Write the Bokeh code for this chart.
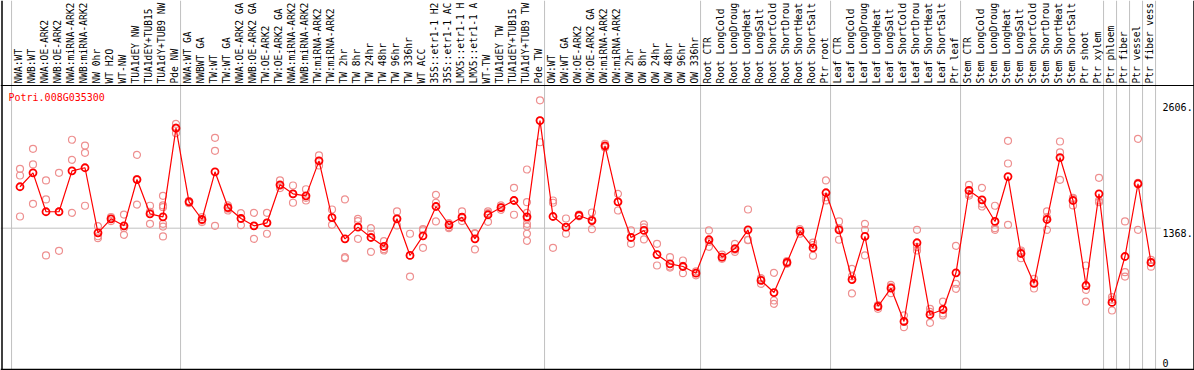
import math
from bokeh.plotting import figure
from bokeh.models import Span
from bokeh.core.properties import value
from bokeh.embed import file_html
from bokeh.resources import INLINE

gene_id = "Potri.008G035300"

categories = [
    "NWA:WT", "NWB:WT", "NWA:OE-ARK2", "NWB:OE-ARK2", "NWA:miRNA-ARK2", "NWB:miRNA-ARK2",
    "NW 0hr", "WT H2O", "WT-NW", "TUA1dEY NW", "TUA1dEY+TUB15", "TUA1dY+TUB9 NW", "Pde NW",
    "NWA:WT GA", "NWBWT GA", "TW:WT", "TW:WT GA", "NWA:OE-ARK2 GA", "NWB:OE-ARK2 GA",
    "TW:OE-ARK2", "TW:OE-ARK2 GA", "NWA:miRNA-ARK2", "NWB:miRNA-ARK2", "TW:miRNA-ARK2",
    "TW:miRNA-ARK2", "TW 2hr", "TW 8hr", "TW 24hr", "TW 48hr", "TW 96hr", "TW 336hr",
    "WT ACC", "35S::etr1-1 H2", "35S::etr1-1 AC", "LMX5::etr1-1 H", "LMX5::etr1-1 A",
    "WT-TW", "TUA1dEY TW", "TUA1dEY+TUB15", "TUA1dY+TUB9 TW", "Pde TW",
    "OW:WT", "OW:WT GA", "OW:OE-ARK2", "OW:OE-ARK2 GA", "OW:miRNA-ARK2", "OW:miRNA-ARK2",
    "OW 2hr", "OW 8hr", "OW 24hr", "OW 48hr", "OW 96hr", "OW 336hr",
    "Root CTR", "Root LongCold", "Root LongDroug", "Root LongHeat", "Root LongSalt",
    "Root ShortCold", "Root ShortDrou", "Root ShortHeat", "Root ShortSalt", "Ptr root",
    "Leaf CTR", "Leaf LongCold", "Leaf LongDroug", "Leaf LongHeat", "Leaf LongSalt",
    "Leaf ShortCold", "Leaf ShortDrou", "Leaf ShortHeat", "Leaf ShortSalt", "Ptr leaf",
    "Stem CTR", "Stem LongCold", "Stem LongDroug", "Stem LongHeat", "Stem LongSalt",
    "Stem ShortCold", "Stem ShortDrou", "Stem ShortHeat", "Stem ShortSalt", "Ptr shoot",
    "Ptr xylem", "Ptr phloem", "Ptr fiber", "Ptr vessel", "Ptr fiber vess",
]

mean_values = [
    1769, 1904, 1527, 1527, 1923, 1953, 1323, 1459, 1391, 1839,
    1507, 1478, 2336, 1623, 1452, 1914, 1568, 1462, 1391, 1420,
    1788, 1701, 1681, 2020, 1471, 1265, 1378, 1278, 1191, 1459,
    1104, 1294, 1578, 1401, 1474, 1265, 1498, 1568, 1636, 1478,
    2410, 1481, 1378, 1491, 1442, 2165, 1623, 1278, 1346, 1113,
    1023, 997, 932, 1256, 1087, 1171, 1352, 862, 745, 1036,
    1339, 1178, 1711, 1352, 871, 1288, 610, 787, 465, 1227,
    532, 581, 936, 1733, 1643, 1433, 1868, 1123, 833, 1452,
    2052, 1636, 813, 1701, 649, 1094, 1798, 1036,
]

replicates = [
    [1943, 1878, 1481], [2136, 1985, 1604], [1830, 1646, 1104], [1904, 1149, 1528],
    [2224, 2030, 1517], [2168, 2098, 1585], [1387, 1290, 1271], [1475, 1459, 1437],
    [1500, 1369, 1304], [2078, 1842, 1597], [1585, 1527, 1410],
    [1681, 1588, 1571, 1410, 1384, 1288], [2378, 2342, 2288],
    [1630, 1630, 1610], [1475, 1443, 1427], [2243, 2117, 1391], [1588, 1556, 1539],
    [1513, 1462, 1397], [1517, 1391, 1265], [1517, 1420, 1314], [1830, 1780, 1756],
    [1781, 1701, 1614], [1745, 1662, 1636], [2072, 2020, 1975], [1549, 1471, 1401],
    [1646, 1087, 1077], [1459, 1437, 1265], [1368, 1314, 1139], [1242, 1165, 1152],
    [1530, 1459, 1394], [1314, 1104, 900], [1358, 1346, 1178], [1691, 1614, 1433],
    [1417, 1378, 1368], [1530, 1474, 1437], [1320, 1314, 1162], [1530, 1513, 1430],
    [1588, 1570, 1546], [1759, 1636, 1498],
    [1936, 1620, 1517, 1459, 1410, 1384, 1314, 1246], [2606, 2410, 2200],
    [1636, 1614, 1178], [1462, 1378, 1314], [1500, 1491, 1483], [1520, 1450, 1358],
    [2184, 2160, 2149], [1701, 1623, 1539], [1346, 1278, 1217], [1404, 1375, 1259],
    [1217, 1115, 1007], [1087, 997, 987], [1055, 1004, 932], [950, 935, 912],
    [1346, 1236, 1188], [1113, 1087, 1071], [1217, 1160, 1139], [1549, 1256, 1252],
    [884, 872, 829], [936, 668, 636], [1049, 1036, 1023], [1358, 1339, 1314],
    [1229, 1205, 1101], [1830, 1668, 1636],
    [1433, 1368, 1256], [975, 902, 736], [1410, 1352, 1104], [620, 620, 587],
    [820, 800, 739], [523, 462, 410], [1352, 1184, 1152], [587, 557, 452],
    [658, 542, 523], [1197, 830, 781],
    [1788, 1701, 1684], [1759, 1604, 1578], [1585, 1368, 1352], [2214, 1994, 1401],
    [1152, 1140, 1077], [878, 836, 784], [1530, 1475, 1352], [2207, 2101, 1836],
    [1662, 1655, 1588], [1007, 771, 658], [1856, 1636, 1620],
    [700, 675, 571], [1433, 942, 900], [2233, 1808, 1352], [1062, 1036, 995],
]

# last column index of each block (vertical separators drawn after them)
group_ends = [0, 13, 41, 53, 63, 73, 84, 85, 86, 87, 88]
tick_values = [2606, 1368, 0]
tick_labels = ["2606.", "1368.", "0"]
mid_grid_value = 1368

# ---- geometry (pixels of the page) ----
W, H = 1194, 370
COL_PX = 13.0
COL1_X = 19.5
ZERO_Y = 369.0
PX_PER_UNIT = 0.1033


def xv(px):
    return 1 + (px - COL1_X) / COL_PX


def yv(py):
    return (ZERO_Y - py) / PX_PER_UNIT


x_start, x_end = xv(0), xv(W)
y_start, y_end = yv(H), yv(0)
label_line_y = yv(85)

FONT = value("DejaVu Sans Mono")

p = figure(width=W, height=H, output_backend="svg", toolbar_location=None,
           x_range=(x_start, x_end), y_range=(y_start, y_end),
           x_axis_location=None, y_axis_location=None,
           min_border=0, min_border_left=0, min_border_right=0,
           min_border_top=0, min_border_bottom=0)
p.grid.visible = False
p.outline_line_color = None
p.background_fill_color = "white"
p.border_fill_color = "white"

xs = list(range(1, len(categories) + 1))

# gray separators
for k in group_ends:
    p.add_layout(Span(location=k + 0.35, dimension="height", line_color="#c0c0c0",
                      line_width=1, level="underlay"))
right_edge = group_ends[-1] + 0.35
p.segment(x0=[x_start], y0=[mid_grid_value], x1=[right_edge + 0.4], y1=[mid_grid_value],
          line_color="#c0c0c0", line_width=1, level="underlay")

# black frame lines
p.add_layout(Span(location=xv(1.5), dimension="height", line_color="black", line_width=1.5))
p.add_layout(Span(location=xv(1193.5), dimension="height", line_color="black", line_width=1.5))
p.add_layout(Span(location=yv(369), dimension="width", line_color="black", line_width=1.5))
p.add_layout(Span(location=label_line_y, dimension="width", line_color="black", line_width=1.2))

# category labels (vertical)
p.text(x=[x - 0.1 for x in xs], y=[yv(83)] * len(xs), text=categories,
       angle=math.pi / 2, text_align="left", text_baseline="middle",
       text_font=FONT, text_font_size="9.6px", text_color="black")

# replicate points
rx, ry = [], []
for x, reps in zip(xs, replicates):
    for r in reps:
        rx.append(x)
        ry.append(r)
p.scatter(rx, ry, marker="circle", size=7, fill_color=None,
          line_color="#ee9090", line_width=1.2)

# mean line and points
p.line(xs, mean_values, line_color="red", line_width=1.2)
p.scatter(xs, mean_values, marker="circle", size=7, fill_color=None,
          line_color="red", line_width=1.8)

# right value labels
p.text(x=[right_edge] * 2, y=tick_values[:2], text=tick_labels[:2],
       x_offset=7, y_offset=[7, 5], text_align="left", text_baseline="middle",
       text_font=FONT, text_font_size="10px", text_color="black")
p.text(x=[right_edge], y=[y_start], text=[tick_labels[2]],
       x_offset=7, y_offset=-8, text_align="left", text_baseline="middle",
       text_font=FONT, text_font_size="10px", text_color="black")

# gene id title
p.text(x=[x_start], y=[label_line_y], text=[gene_id], x_offset=8, y_offset=12,
       text_align="left", text_baseline="middle",
       text_font=FONT, text_font_size="10px", text_color="red")

open("out.html", "w").write(file_html(p, INLINE))
